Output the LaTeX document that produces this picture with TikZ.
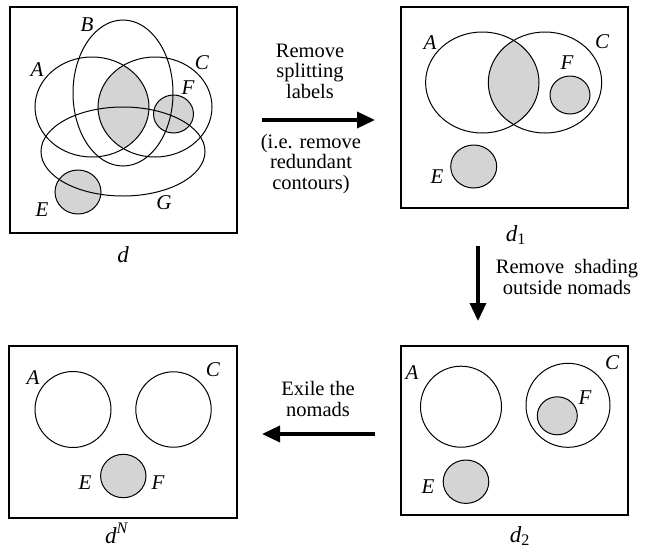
\documentclass[tikz,border=0pt]{standalone}
\usepackage{fontspec}
\setmainfont{Liberation Serif}
\usepackage{xcolor}
\usetikzlibrary{arrows.meta}
\definecolor{nomadgray}{gray}{0.83}

\begin{document}
\begin{tikzpicture}[x=1pt,y=-1pt,
        panel/.style={draw,line width=1.4pt,inner sep=0pt},
        curve/.style={line width=1pt},
        lbl/.style={font=\fontsize{21}{22}\selectfont\itshape,inner sep=0pt},
        caption/.style={font=\fontsize{23}{24}\selectfont\itshape,inner sep=0pt,anchor=base},
        note/.style={font=\fontsize{20.5}{20.5}\selectfont,align=center,inner sep=0pt},
        move/.style={line width=3.5pt,-{Triangle[length=18pt,width=16pt]}}]
      \useasboundingbox (0,0) rectangle (646,558);

      % the four diagrams
      \node[panel,minimum width=227pt,minimum height=226pt] (d)  at (123.5,120)   {};
      \node[panel,minimum width=227pt,minimum height=201pt] (d1) at (514.5,107.5) {};
      \node[panel,minimum width=227pt,minimum height=169pt] (d2) at (514.5,430.5) {};
      \node[panel,minimum width=228pt,minimum height=172pt] (dN) at (123,432)     {};

      % d
      \begin{scope}
        \clip (92,107) ellipse [x radius=57pt,y radius=50pt];
        \fill[nomadgray] (155,107) ellipse [x radius=57pt,y radius=50pt];
      \end{scope}
      \fill[nomadgray] (173.5,114) ellipse [x radius=20pt,y radius=19pt];
      \fill[nomadgray] (78,192) ellipse [x radius=23pt,y radius=22pt];
      \draw[curve] (92,107) ellipse [x radius=57pt,y radius=50pt];
      \draw[curve] (123,93) ellipse [x radius=50pt,y radius=73pt];
      \draw[curve] (155,107) ellipse [x radius=57pt,y radius=50pt];
      \draw[curve] (123,151.5) ellipse [x radius=82pt,y radius=44.5pt];
      \draw[curve] (173.5,114) ellipse [x radius=20pt,y radius=19pt];
      \draw[curve] (78,192) ellipse [x radius=23pt,y radius=22pt];
      \node[lbl] (dA) at (37,70)  {A};
      \node[lbl] (dB) at (87,25)  {B};
      \node[lbl] (dC) at (202,63) {C};
      \node[lbl] (dF) at (188,88) {F};
      \node[lbl] (dE) at (42,210) {E};
      \node[lbl] (dG) at (164,203) {G};
      \node[caption] (capd) at (123,262) {d};

      % d1
      \begin{scope}
        \clip (482.3,82.5) ellipse [x radius=56.7pt,y radius=50.5pt];
        \fill[nomadgray] (545,82.5) ellipse [x radius=56.7pt,y radius=50.5pt];
      \end{scope}
      \draw[curve] (482.3,82.5) ellipse [x radius=56.7pt,y radius=50.5pt];
      \draw[curve] (545,82.5) ellipse [x radius=56.7pt,y radius=50.5pt];
      \draw[curve,fill=nomadgray] (570,95) ellipse [x radius=20pt,y radius=19pt];
      \draw[curve,fill=nomadgray] (473.7,166.5) ellipse [x radius=23pt,y radius=21.5pt];
      \node[lbl] (d1A) at (430,43)  {A};
      \node[lbl] (d1C) at (602,42)  {C};
      \node[lbl] (d1F) at (567,63)  {F};
      \node[lbl] (d1E) at (437,177) {E};
      \node[caption] (capd1) at (516,241) {d\textsubscript{\upshape 1}};

      % d2
      \draw[curve] (461,406.7) circle [radius=40.5pt];
      \draw[curve] (568,405.3) circle [radius=42pt];
      \draw[curve,fill=nomadgray] (557.3,415.8) ellipse [x radius=20pt,y radius=19pt];
      \draw[curve,fill=nomadgray] (466,481.7) ellipse [x radius=22.8pt,y radius=21.7pt];
      \node[lbl] (d2A) at (412,373) {A};
      \node[lbl] (d2C) at (612,363) {C};
      \node[lbl] (d2F) at (585,398) {F};
      \node[lbl] (d2E) at (428,487) {E};
      \node[caption] (capd2) at (520,542) {d\textsubscript{\upshape 2}};

      % dN
      \draw[curve] (73,409.5) circle [radius=38pt];
      \draw[curve] (173.5,409.5) circle [radius=37.7pt];
      \draw[curve,fill=nomadgray] (123.3,476) ellipse [x radius=22.7pt,y radius=21.7pt];
      \node[lbl] (dNA) at (33,378)  {A};
      \node[lbl] (dNC) at (213,370) {C};
      \node[lbl] (dNE) at (85,483)  {E};
      \node[lbl] (dNF) at (158,483) {F};
      \node[caption] (capdN) at (116.5,543) {d\textsuperscript{N}};

      % the steps
      \coordinate (s1a) at (262,120);
      \coordinate (s1b) at (375,120);
      \coordinate (s2a) at (478,246);
      \coordinate (s2b) at (478,321);
      \coordinate (s3a) at (375,434);
      \coordinate (s3b) at (262,434);
      \draw[move] (s1a) -- (s1b);
      \draw[move] (s2a) -- (s2b);
      \draw[move] (s3a) -- (s3b);
      \node[note] (t1a) at (310,71)  {Remove\\splitting\\labels};
      \node[note] (t1b) at (311,164) {(i.e. remove\\redundant\\contours)};
      \node[note] (t2)  at (567,277) {Remove\ \ shading\\outside nomads};
      \node[note] (t3)  at (318,399) {Exile the\\nomads};
    \end{tikzpicture}
\end{document}
